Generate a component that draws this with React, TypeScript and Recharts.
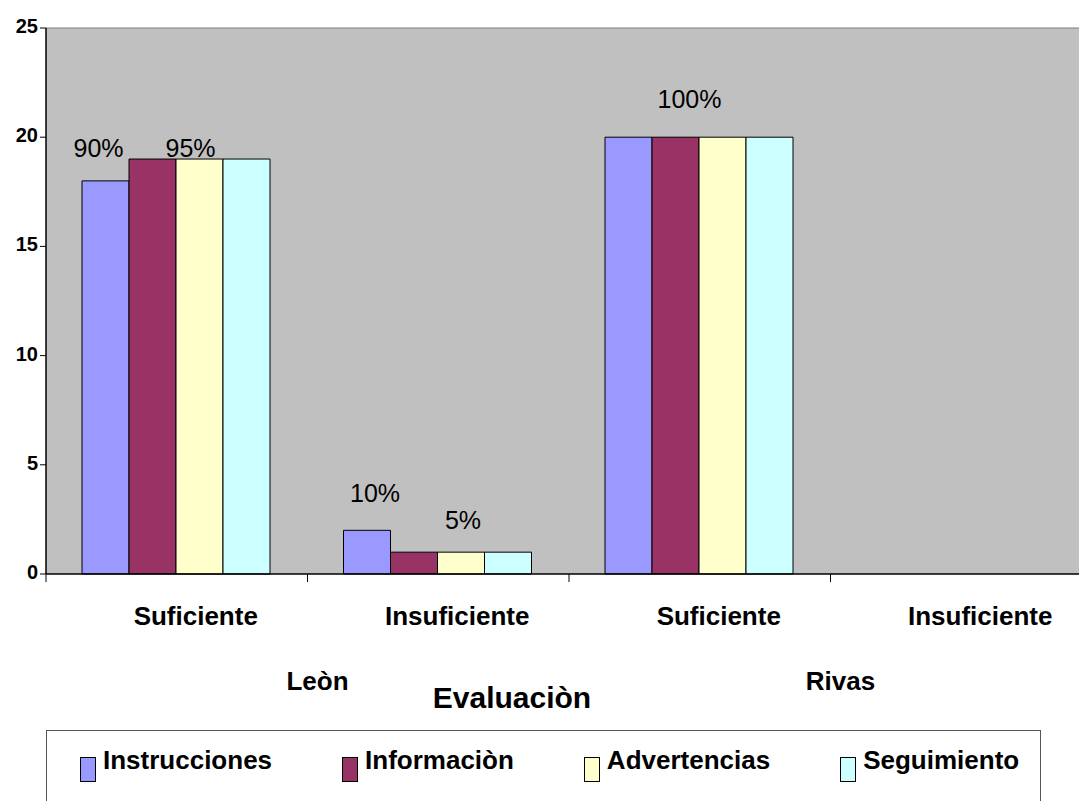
import React from 'react';
import { BarChart, Bar, XAxis, YAxis, CartesianGrid, Legend, LabelList, ReferenceLine, Label } from 'recharts';

const categories = ['Suficiente', 'Insuficiente', 'Suficiente', 'Insuficiente'];
const regions = ['Leòn', 'Leòn', 'Rivas', 'Rivas'];
const instrucciones = [18, 2, 20, 0];
const informacion = [19, 1, 20, 0];
const advertencias = [19, 1, 20, 0];
const seguimiento = [19, 1, 20, 0];
const instruccionesLabels = ['90%', '10%', '', ''];
const informacionLabels = ['', '', '100%', ''];
const advertenciasLabels = ['95%', '5%', '', ''];
const seguimientoLabels = ['', '', '', ''];
const yTicks = [0, 5, 10, 15, 20, 25];

const FONT = "Arial, 'Liberation Sans', sans-serif";

const series = [
  { key: 'instrucciones', name: 'Instrucciones', color: '#9999FF' },
  { key: 'informacion', name: 'Informaciòn', color: '#993366' },
  { key: 'advertencias', name: 'Advertencias', color: '#FFFFCC' },
  { key: 'seguimiento', name: 'Seguimiento', color: '#CCFFFF' },
];

const data = categories.map((name, i) => ({
  name,
  region: regions[i],
  instrucciones: instrucciones[i],
  informacion: informacion[i],
  advertencias: advertencias[i],
  seguimiento: seguimiento[i],
  instruccionesLabel: instruccionesLabels[i],
  informacionLabel: informacionLabels[i],
  advertenciasLabel: advertenciasLabels[i],
  seguimientoLabel: seguimientoLabels[i],
}));

// label placement tweaks (dx from bar centre, gap above bar top)
const labelNudge: Record<string, [number, number]> = {
  'instrucciones-0': [-7, 24],
  'advertencias-0': [-9, 2],
  'instrucciones-1': [8, 28],
  'advertencias-1': [2, 23],
  'informacion-2': [14, 29],
};

const makeLabel = (seriesKey: string) => (props: any) => {
  const { x, y, width, value, index } = props;
  if (!value) return null;
  const [dx, gap] = labelNudge[`${seriesKey}-${index}`] ?? [0, 24];
  return (
    <text x={Number(x) + Number(width) / 2 + dx} y={Number(y) - gap} textAnchor="middle" fontSize={25} fill="#000" fontFamily={FONT}>
      {value}
    </text>
  );
};

const CategoryTick = (props: any) => {
  const { x, y, payload, index } = props;
  const half = payload && payload.offset ? payload.offset : 130.75;
  const first = index === 0 || regions[index] !== regions[index - 1];
  return (
    <g>
      <line x1={x - half} y1={y} x2={x - half} y2={y + 8} stroke="#000" strokeWidth={1} />
      <text x={x + 19} y={y} dy={51} textAnchor="middle" fontWeight="bold" fontSize={26} fill="#000" fontFamily={FONT}>
        {payload.value}
      </text>
      {first && (
        <text x={x + half + 10} y={y} dy={116} textAnchor="middle" fontWeight="bold" fontSize={26} fill="#000" fontFamily={FONT}>
          {regions[index]}
        </text>
      )}
    </g>
  );
};

const YTick = (props: any) => {
  const { x, y, payload } = props;
  return (
    <text x={x} y={y} dy={5} textAnchor="end" fontWeight="bold" fontSize={20} fill="#000" fontFamily={FONT}>
      {payload.value}
    </text>
  );
};

const renderTitle = (props: any) => {
  const { x, y, width } = props.viewBox;
  return (
    <text x={x + width / 2 - 57} y={y + 134} textAnchor="middle" fontWeight="bold" fontSize={30} fill="#000" fontFamily={FONT}>
      Evaluaciòn
    </text>
  );
};

const renderLegend = () => (
  <div style={{ display: 'flex', gap: 70, paddingLeft: 33, paddingTop: 15, fontFamily: FONT }}>
    {series.map((s) => (
      <div key={s.key} style={{ display: 'flex', alignItems: 'flex-start' }}>
        <span
          style={{
            display: 'inline-block',
            width: 16,
            height: 25,
            background: s.color,
            border: '1px solid #000',
            boxSizing: 'border-box',
            marginTop: 11,
            marginRight: 7,
          }}
        />
        <span style={{ fontSize: 26, fontWeight: 'bold', lineHeight: '29px', color: '#000', whiteSpace: 'nowrap' }}>{s.name}</span>
      </div>
    ))}
  </div>
);

export default function App() {
  return (
    <div style={{ position: 'fixed', left: 0, top: 0, width: 1079, height: 801, overflow: 'hidden', background: '#fff' }}>
      <BarChart
        width={1092}
        height={801}
        data={data}
        margin={{ top: 28, right: 0, left: 0, bottom: 77 }}
        barCategoryGap="13.77%"
        barGap={0}
        style={{ fontFamily: FONT }}
      >
        <CartesianGrid fill="#C0C0C0" fillOpacity={1} stroke="none" horizontal={false} vertical={false} />
        <ReferenceLine y={25} stroke="#808080" strokeWidth={1} />
        <XAxis
          dataKey="name"
          height={150}
          axisLine={{ stroke: '#000', strokeWidth: 1.5 }}
          tickLine={false}
          tickSize={0}
          tickMargin={0}
          interval={0}
          tick={<CategoryTick />}
        >
          <Label content={renderTitle} />
        </XAxis>
        <YAxis
          width={46}
          domain={[0, 25]}
          ticks={yTicks}
          interval={0}
          axisLine={{ stroke: '#000', strokeWidth: 1.5 }}
          tickLine={{ stroke: '#000' }}
          tickSize={6}
          tickMargin={2}
          tick={<YTick />}
        />
        <Legend
          layout="horizontal"
          verticalAlign="middle"
          align="center"
          content={renderLegend}
          wrapperStyle={{
            position: 'absolute',
            left: 46,
            top: 730,
            width: 995,
            height: 90,
            border: '1px solid #555',
            boxSizing: 'border-box',
            background: '#fff',
          }}
        />
        {series.map((s) => (
          <Bar key={s.key} dataKey={s.key} name={s.name} fill={s.color} stroke="#000" strokeWidth={1} isAnimationActive={false}>
            <LabelList dataKey={`${s.key}Label`} content={makeLabel(s.key)} />
          </Bar>
        ))}
      </BarChart>
    </div>
  );
}
